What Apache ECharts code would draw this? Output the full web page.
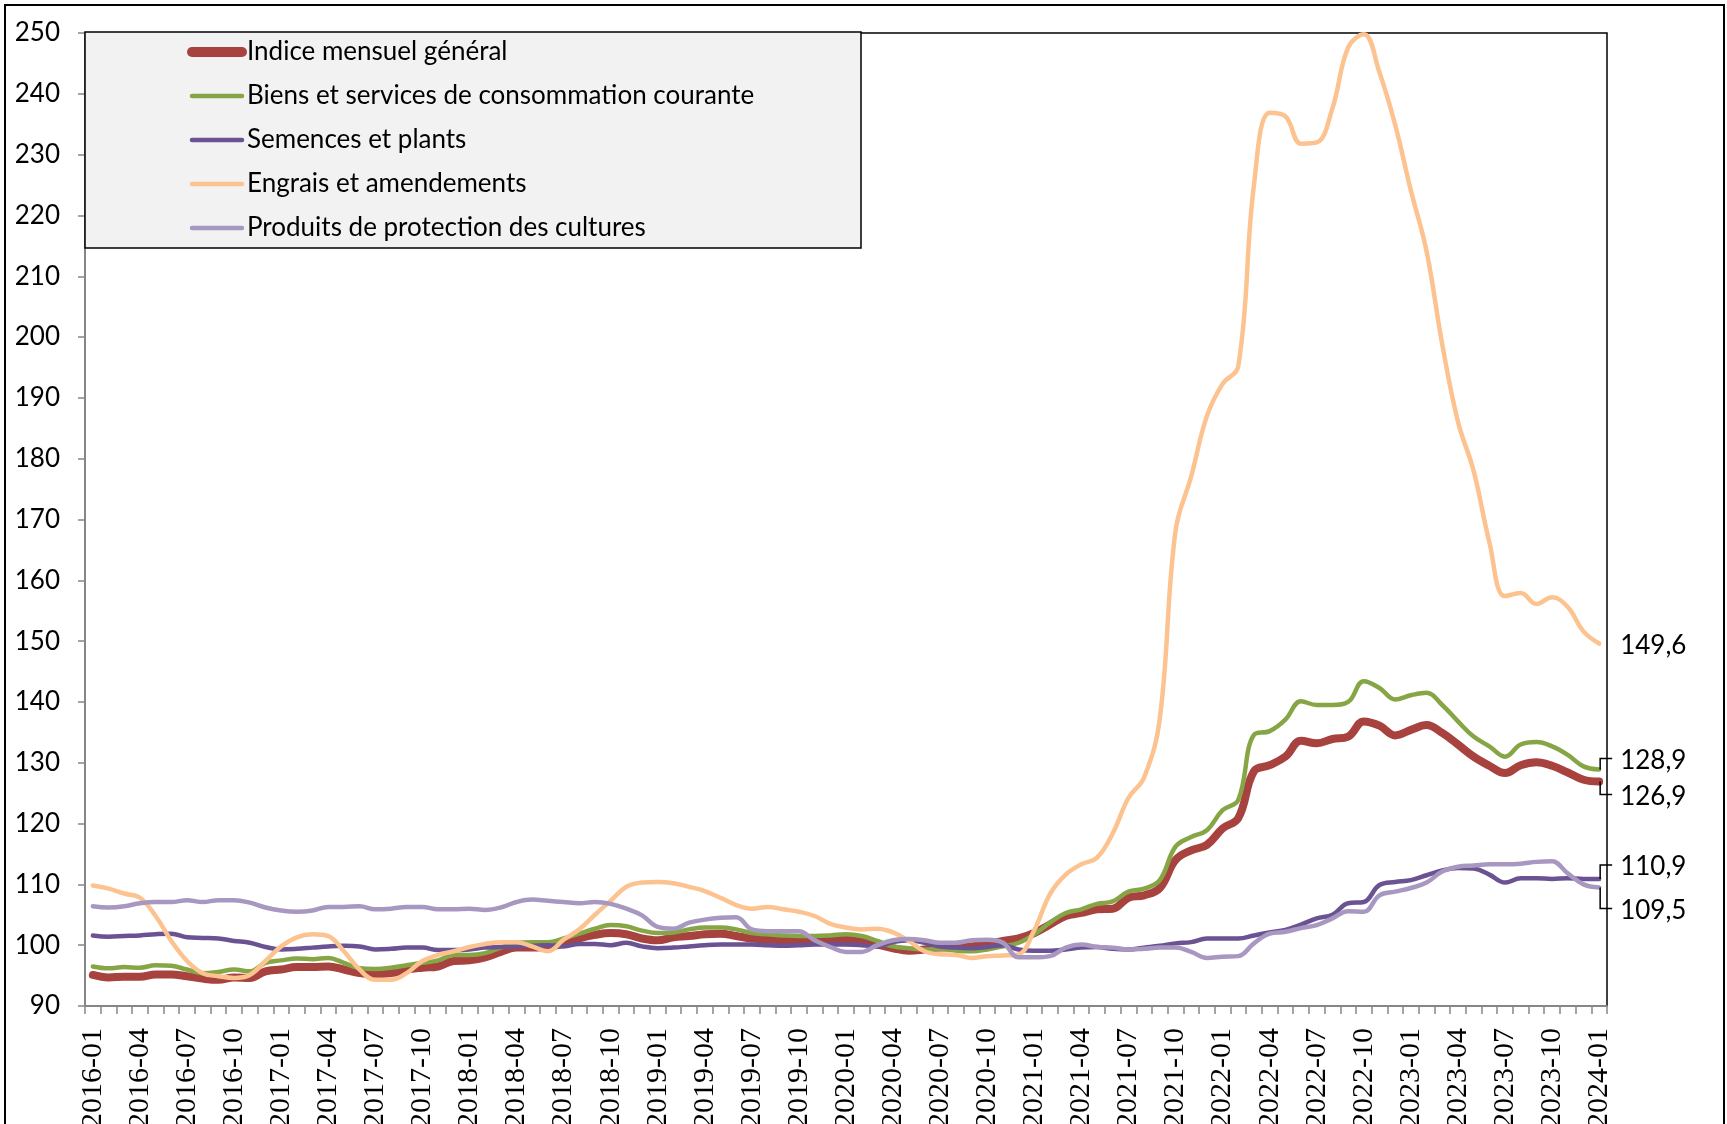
<!DOCTYPE html>
<html><head><meta charset="utf-8">
<script src="https://cdn.jsdelivr.net/npm/echarts@6/dist/echarts.min.js"></script>
<style>html,body{margin:0;padding:0;background:#fff}#c{width:1727px;height:1124px}</style>
</head><body><div id="c"></div>
<script>
// Categories: monthly, 2016-01 .. 2024-01
const startYear = 2016, endYear = 2024;
const months = [];
for (let y = startYear; y <= endYear; y++) {
  for (let m = 1; m <= 12; m++) {
    if (y === endYear && m > 1) break;
    months.push(y + '-' + (m < 10 ? '0' + m : m));
  }
}

const seriesNames = [
  'Indice mensuel général',
  'Biens et services de consommation courante',
  'Semences et plants',
  'Engrais et amendements',
  'Produits de protection des cultures'
];

const indiceGeneral = [
  95.1,94.7,94.8,94.8,95.2,95.2,94.9,94.5,94.3,94.7,94.6,95.7,96.0,96.4,96.4,96.5,96.0,95.4,95.2,95.4,96.0,96.3,96.5,97.4,97.5,98.0,98.9,99.6,99.6,99.8,100.2,101.1,101.7,
  102.0,101.8,101.1,100.8,101.3,101.5,101.8,101.9,101.5,101.1,100.9,100.8,100.8,100.8,100.9,100.9,100.8,100.1,99.5,99.1,99.3,99.6,99.7,99.8,100.2,100.7,101.1,102.0,103.4,104.8,105.3,105.9,
  106.0,107.8,108.2,109.4,114.0,115.6,116.5,119.2,120.9,128.6,129.6,131.0,133.6,133.2,133.9,134.3,136.8,136.1,134.5,135.4,136.2,134.9,133.0,131.0,129.5,128.3,129.6,130.1,129.5,128.4,127.2,126.9
];
const biensServices = [
  96.5,96.2,96.4,96.3,96.7,96.6,96.0,95.4,95.6,96.0,95.7,97.1,97.5,97.8,97.7,97.9,97.1,96.2,96.1,96.3,96.7,97.1,97.5,98.4,98.4,98.7,99.6,100.4,100.5,100.5,101.1,101.9,102.7,
  103.3,103.1,102.4,102.0,102.1,102.6,102.9,102.9,102.6,102.0,101.8,101.6,101.5,101.5,101.6,101.8,101.5,100.7,99.8,99.5,99.3,99.4,99.1,99.0,99.3,99.8,100.4,101.8,103.7,105.3,105.9,106.8,
  107.2,108.8,109.3,110.7,116.2,117.8,118.9,122.2,123.9,134.6,135.2,137.1,140.1,139.5,139.5,140.0,143.4,142.3,140.4,141.1,141.5,139.5,136.8,134.3,132.7,131.0,133.0,133.4,132.7,131.3,129.4,128.9
];
const semences = [
  101.6,101.4,101.5,101.6,101.8,101.9,101.3,101.2,101.1,100.7,100.4,99.7,99.3,99.4,99.6,99.8,99.9,99.8,99.3,99.4,99.6,99.6,99.2,99.2,99.3,99.6,99.7,99.8,99.9,100.0,99.8,100.2,100.2,
  100.0,100.4,99.8,99.5,99.6,99.8,100.0,100.1,100.1,100.1,100.0,99.9,100.0,100.1,100.1,100.1,100.0,99.8,100.5,100.8,100.4,99.8,99.6,99.5,99.7,100.0,99.3,99.1,99.1,99.3,99.6,99.7,
  99.4,99.3,99.6,99.9,100.3,100.5,101.1,101.1,101.1,101.6,102.1,102.5,103.4,104.4,105.0,106.9,107.1,109.9,110.4,110.7,111.5,112.3,112.7,112.6,111.6,110.3,111.0,111.0,110.9,111.0,110.9,110.9
];
const engrais = [
  109.8,109.3,108.5,107.8,104.8,100.7,97.4,95.4,94.9,94.6,95.1,97.4,99.8,101.3,101.8,101.5,99.0,96.0,94.3,94.3,95.4,97.4,98.4,99.0,99.7,100.2,100.5,100.5,99.8,99.0,100.9,102.6,105.0,
  107.3,109.6,110.3,110.4,110.2,109.6,108.9,107.8,106.6,106.0,106.3,105.9,105.5,104.8,103.5,102.9,102.6,102.7,102.1,100.7,99.0,98.5,98.4,97.9,98.2,98.3,98.5,102.5,108.4,111.6,113.3,114.4,
  118.4,124.2,127.6,137.3,168.1,177.1,187.0,192.3,195.2,225.0,236.9,236.3,231.8,232.0,237.6,247.6,249.8,243.5,234.9,224.1,214.1,198.8,186.1,178.0,166.3,157.4,157.9,156.1,157.2,155.6,151.6,149.6
];
const protection = [
  106.4,106.2,106.4,106.9,107.1,107.1,107.4,107.1,107.4,107.4,107.0,106.2,105.7,105.5,105.7,106.3,106.3,106.4,105.9,106.0,106.3,106.3,105.9,105.9,106.0,105.8,106.2,107.1,107.5,107.3,107.1,106.9,107.1,
  106.8,106.0,104.9,103.0,102.7,103.7,104.2,104.5,104.6,102.6,102.3,102.3,102.3,100.8,99.7,98.9,98.9,100.0,100.8,101.0,100.8,100.4,100.4,100.8,100.9,100.4,98.0,98.0,98.2,99.6,100.1,99.7,
  99.6,99.3,99.4,99.6,99.6,98.9,97.9,98.1,98.2,100.3,101.9,102.2,102.8,103.3,104.4,105.6,105.5,108.2,108.8,109.4,110.3,112.1,112.9,113.1,113.3,113.3,113.4,113.7,113.8,111.8,110.0,109.5
];

const yMin = 90, yMax = 250, yStep = 10;

// styling
const colors = ['#a8423f', '#86a646', '#6a5293', '#fcc390', '#a898c1'];
const widths = [8, 4.5, 4.5, 4.5, 4.5];
const legendWidths = [10, 4.5, 4.5, 4.5, 4.5];
const endLabelShift = [13, -11, -14, 0, 21]; // pixel offsets of end labels (leader brackets)
const endLabelNudge = 2;

const allData = [indiceGeneral, biensServices, semences, engrais, protection];

const chart = echarts.init(document.getElementById('c'), null, {renderer: 'canvas'});

const series = seriesNames.map((name, k) => ({
  name: name,
  type: 'line',
  data: allData[k],
  smooth: 0.4,
  symbol: 'none',
  lineStyle: {color: colors[k], width: widths[k], cap: 'round', join: 'round'},
  itemStyle: {color: colors[k]},
  z: 3
}));

chart.setOption({
  animation: false,
  backgroundColor: '#fff',
  grid: {left: 85, right: 120, top: 33, bottom: 118, outerBoundsMode: 'none', containLabel: false,
         show: true, borderColor: '#000', borderWidth: 1.5, backgroundColor: 'transparent'},
  legend: {
    show: true,
    orient: 'vertical',
    left: 187, top: 37,
    itemWidth: 50, itemHeight: 30, itemGap: 14,
    padding: 0,
    selectedMode: false,
    itemStyle: {opacity: 0, color: 'transparent', borderWidth: 0},
    data: seriesNames.map((n, k) => ({name: n, lineStyle: {color: colors[k], width: legendWidths[k], cap: 'round'}, itemStyle: {opacity: 0, color: 'transparent', borderWidth: 0}})),
    textStyle: {fontFamily: 'Lato', fontSize: 26, color: '#000', lineHeight: 30}
  },
  xAxis: {
    type: 'category',
    data: months,
    boundaryGap: true,
    axisLine: {show: true, lineStyle: {color: '#868686', width: 2}},
    axisTick: {show: true, interval: 0, length: 8, lineStyle: {color: '#868686', width: 1.5}},
    axisLabel: {interval: 2, rotate: 90, margin: 22, fontFamily: 'Liberation Sans Narrow', fontSize: 30, color: '#000'},
    splitLine: {show: false}
  },
  yAxis: {
    type: 'value',
    min: yMin, max: yMax, interval: yStep,
    axisLine: {show: true, lineStyle: {color: '#868686', width: 2}},
    axisTick: {show: true, length: 7, lineStyle: {color: '#868686', width: 1.5}},
    axisLabel: {margin: 25, fontFamily: 'Lato', fontSize: 26, color: '#000'},
    splitLine: {show: false}
  },
  series: series
});

// legend box, outer frame, end labels with leader brackets
const graphics = [
  {type: 'rect', shape: {x: 85, y: 32, width: 776, height: 216}, style: {fill: '#f2f2f2', stroke: '#000', lineWidth: 1.5}, z: 1, zlevel: 0},
  {type: 'rect', shape: {x: 5, y: 5, width: 1719, height: 1140}, style: {fill: 'none', stroke: '#000', lineWidth: 2}, silent: true}
];
allData.forEach((d, k) => {
  const last = d[d.length - 1];
  const p = chart.convertToPixel({seriesIndex: k}, [d.length - 1, last]);
  const dy = endLabelShift[k];
  const ly = p[1] + dy;
  if (dy !== 0) {
    graphics.push({type: 'polyline', shape: {points: [[p[0] + 1, p[1]], [p[0] + 1, ly], [p[0] + 13, ly]]}, style: {stroke: '#000', lineWidth: 1.5, fill: 'none'}, z: 10});
  }
  graphics.push({type: 'text', x: p[0] + 21, y: ly + endLabelNudge, style: {text: last.toFixed(1).replace('.', ','), fontFamily: 'Lato', fontSize: 26, fill: '#000', textVerticalAlign: 'middle', verticalAlign: 'middle', align: 'left'}, z: 10});
});
chart.setOption({graphic: graphics});
</script>
</body></html>
